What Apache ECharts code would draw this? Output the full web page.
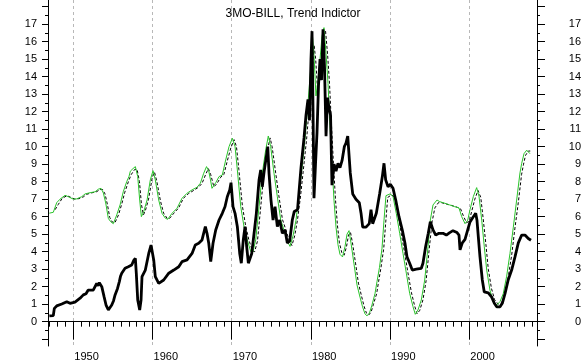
<!DOCTYPE html>
<html><head><meta charset="utf-8">
<script src="https://cdn.jsdelivr.net/npm/echarts@6/dist/echarts.min.js"></script>
<style>html,body{margin:0;padding:0;background:#fff}#c{width:586px;height:364px}</style>
</head><body><div id="c"></div>
<script>
// ---- Data ----
const billYears = [1946.97,1947.47,1947.60,1947.90,1948.54,1949.17,1949.58,1950.21,1950.85,1951.26,1951.60,1951.86,1952.11,1952.53,1952.95,1953.12,1953.28,1953.59,1953.88,1954.13,1954.42,1954.85,1955.08,1955.27,1955.58,1955.81,1955.96,1956.11,1956.53,1956.94,1957.37,1957.63,1957.83,1957.95,1958.13,1958.38,1958.55,1958.67,1959.09,1959.52,1959.81,1959.94,1960.15,1960.35,1960.78,1961.41,1962.05,1962.68,1963.31,1963.72,1964.36,1964.99,1965.40,1965.83,1966.25,1966.67,1966.88,1967.10,1967.35,1967.64,1967.98,1968.40,1968.81,1969.15,1969.44,1969.75,1969.91,1970.16,1970.42,1970.71,1971.01,1971.21,1971.46,1971.68,1971.89,1972.10,1972.27,1972.53,1972.82,1973.11,1973.45,1973.66,1973.86,1974.12,1974.37,1974.55,1974.71,1974.96,1975.22,1975.47,1975.76,1976.06,1976.39,1976.73,1977.02,1977.32,1977.65,1977.90,1978.31,1978.75,1979.13,1979.38,1979.63,1979.82,1980.01,1980.14,1980.27,1980.39,1980.58,1980.77,1980.96,1981.15,1981.34,1981.53,1981.72,1981.91,1982.10,1982.29,1982.48,1982.66,1982.92,1983.17,1983.42,1983.67,1983.93,1984.22,1984.43,1984.65,1984.97,1985.28,1985.69,1986.11,1986.33,1986.54,1986.96,1987.37,1987.59,1987.80,1988.26,1988.69,1989.02,1989.23,1989.44,1989.74,1990.03,1990.37,1990.71,1991.12,1991.54,1991.88,1992.13,1992.47,1992.80,1993.31,1993.94,1994.15,1994.49,1994.82,1995.08,1995.42,1995.76,1996.17,1996.68,1997.10,1997.53,1997.94,1998.45,1998.70,1998.83,1999.12,1999.46,1999.80,2000.09,2000.51,2000.81,2000.97,2001.14,2001.35,2001.64,2001.89,2002.40,2002.83,2003.16,2003.46,2003.88,2004.17,2004.51,2004.92,2005.35,2005.77,2006.19,2006.62,2007.03,2007.45,2007.79];
const billValues = [0.33,0.35,0.76,0.9,1.01,1.14,1.05,1.12,1.34,1.53,1.6,1.8,1.71,1.81,2.19,2.05,2.23,2.0,1.43,0.95,0.67,0.95,1.2,1.53,1.9,2.29,2.6,2.77,3.05,3.14,3.24,3.5,3.62,2.77,1.24,0.67,1.24,2.57,2.95,3.9,4.38,4.48,3.53,2.57,2.19,2.38,2.77,2.95,3.14,3.43,3.53,3.9,4.38,4.48,4.67,5.43,5.05,4.48,3.43,4.48,5.24,5.81,6.19,6.57,7.14,7.53,7.94,6.57,6.19,5.43,3.9,3.34,4.67,5.43,4.29,3.34,3.24,3.9,5.05,6.19,8.1,8.67,7.71,8.67,9.43,10.0,8.48,6.95,5.81,6.57,5.43,5.81,5.05,5.24,4.5,4.6,5.81,6.3,6.4,8.8,10.5,11.8,12.7,11.5,15.0,16.6,12.0,7.05,9.0,10.8,13.5,15.0,13.8,16.7,14.5,10.6,12.8,12.2,11.8,7.8,9.0,8.6,9.05,8.8,9.2,10.0,10.2,10.6,8.5,7.3,7.0,6.8,6.2,5.4,5.4,5.6,6.4,5.6,6.19,7.34,8.29,9.05,8.1,7.71,7.85,7.62,6.95,6.0,5.24,4.48,3.71,3.34,2.95,3.0,3.05,3.34,4.29,5.05,5.71,5.24,4.95,5.05,5.05,4.95,5.09,5.2,5.09,4.95,4.1,4.5,4.7,5.25,5.7,6.0,6.2,5.8,4.85,3.7,2.4,1.7,1.65,1.4,1.05,0.85,0.85,1.05,1.6,2.4,2.95,3.7,4.5,4.95,4.95,4.75,4.65];

const trendYears = [1946.97,1947.47,1947.90,1948.32,1948.95,1949.37,1950.00,1950.43,1951.06,1951.48,1952.11,1952.74,1953.16,1953.50,1953.79,1954.09,1954.42,1954.72,1955.05,1955.48,1955.90,1956.31,1956.74,1957.03,1957.20,1957.54,1957.83,1958.13,1958.38,1958.59,1958.89,1959.31,1959.72,1960.06,1960.35,1960.78,1961.20,1961.62,1961.92,1962.46,1963.09,1963.72,1964.36,1964.99,1965.62,1966.04,1966.46,1966.82,1967.10,1967.32,1967.51,1967.98,1968.40,1968.81,1969.24,1969.66,1970.08,1970.42,1970.71,1971.14,1971.55,1971.97,1972.40,1972.69,1973.03,1973.45,1973.86,1974.29,1974.62,1974.92,1975.34,1975.76,1976.19,1976.60,1977.02,1977.36,1977.74,1978.12,1978.50,1978.88,1979.26,1979.63,1979.95,1980.20,1980.39,1980.64,1980.90,1981.15,1981.40,1981.65,1981.91,1982.16,1982.41,1982.66,1982.92,1983.17,1983.42,1983.67,1983.99,1984.31,1984.56,1984.81,1985.06,1985.44,1985.82,1986.20,1986.52,1986.83,1987.08,1987.40,1987.71,1988.09,1988.35,1988.66,1988.98,1989.23,1989.48,1989.99,1990.37,1990.78,1991.21,1991.63,1992.05,1992.47,1992.89,1993.18,1993.52,1993.94,1994.37,1994.79,1995.08,1995.42,1995.92,1996.26,1996.89,1997.53,1998.16,1998.70,1999.04,1999.46,1999.80,2000.09,2000.51,2000.93,2001.23,2001.57,2001.89,2002.20,2002.61,2003.03,2003.46,2003.88,2004.29,2004.72,2005.14,2005.56,2005.98,2006.40,2006.62,2006.91,2007.25,2007.45,2007.66];
const trendValues = [6.2,6.25,6.8,7.0,7.22,7.14,7.0,7.02,7.14,7.3,7.37,7.42,7.57,7.62,7.35,6.78,5.9,5.71,5.6,6.1,6.67,7.43,8.0,8.3,8.6,8.75,8.86,8.29,6.95,6.0,6.29,6.95,8.1,8.63,8.1,6.95,6.19,5.91,5.85,6.19,6.48,7.05,7.34,7.53,7.68,7.91,8.48,8.86,8.6,8.1,7.62,7.94,8.29,8.38,9.24,10.0,10.48,10.0,8.67,6.57,5.43,4.67,4.0,4.0,4.67,6.57,8.48,9.81,10.61,10.0,8.48,7.14,5.81,5.24,4.6,4.3,4.9,5.8,7.3,8.8,10.5,12.5,14.3,16.3,15.2,12.9,13.8,15.0,16.3,16.8,15.3,13.6,11.2,9.0,6.9,5.4,4.4,3.85,3.7,4.3,5.0,5.2,4.5,3.3,2.1,1.4,0.85,0.45,0.33,0.5,0.95,1.6,2.3,3.1,4.2,5.8,7.2,7.3,7.15,6.19,5.05,3.9,2.77,1.62,0.86,0.42,0.67,1.24,2.38,4.29,5.81,6.67,6.95,6.86,6.77,6.67,6.57,6.5,6.0,5.6,5.8,6.4,7.15,7.66,7.15,5.8,4.3,2.95,1.8,1.15,0.95,1.15,1.6,2.6,3.9,5.4,6.95,8.5,9.05,9.6,9.8,9.7,9.6];

const signalYears = [1947.7,1948.1,1948.6,1949.2,1949.6,1950.2,1950.7,1951.3,1951.7,1952.3,1952.9,1953.4,1953.7,1954.0,1954.3,1954.6,1954.9,1955.25,1955.7,1956.1,1956.5,1956.95,1957.3,1957.75,1958.05,1958.35,1958.6,1958.85,1959.1,1959.5,1959.95,1960.25,1960.55,1961.0,1961.4,1961.85,1962.15,1962.7,1963.3,1963.9,1964.55,1965.2,1965.8,1966.25,1966.7,1967.05,1967.35,1967.75,1968.15,1968.6,1969.0,1969.45,1969.9,1970.3,1970.6,1970.9,1971.35,1971.75,1972.15,1972.6,1972.9,1973.25,1973.65,1974.05,1974.5,1974.85,1975.1,1975.55,1975.95,1976.4,1976.8,1977.25,1977.6,1977.95,1978.3,1978.7,1979.05,1979.45,1979.8,1980.15,1980.4,1980.6,1980.85,1981.1,1981.35,1981.6,1981.85,1982.1,1982.35,1982.6,1982.85,1983.1,1983.35,1983.6,1983.9,1984.2,1984.5,1984.75,1985.0,1985.25,1985.65,1986.0,1986.4,1986.7,1987.0,1987.3,1987.6,1987.9,1988.3,1988.55,1988.85,1989.2,1989.45,1989.7,1990.2,1990.6,1991.0,1991.4,1991.85,1992.25,1992.7,1993.1,1993.4,1993.75,1994.15,1994.55,1994.95,1995.3,1995.65,1996.1,1996.5,1997.1,1997.7,1998.35,1998.9,1999.25,1999.65,2000.0,2000.3,2000.7,2001.1,2001.45,2001.75,2002.1,2002.4,2002.8,2003.2,2003.65,2004.1,2004.5,2004.9,2005.35,2005.75,2006.2,2006.6,2006.85,2007.1,2007.45,2007.7];
const signalValues = [6.4,6.7,7.05,7.2,7.12,7.0,7.03,7.14,7.28,7.36,7.42,7.55,7.55,7.3,6.7,5.95,5.7,5.65,6.1,6.7,7.4,8.0,8.4,8.7,8.7,8.0,6.7,6.1,6.35,7.0,8.2,8.55,8.0,6.9,6.2,5.9,5.9,6.2,6.5,7.05,7.32,7.5,7.68,7.9,8.4,8.75,8.4,7.7,7.9,8.25,8.4,9.2,9.95,10.4,10.0,8.7,6.6,5.5,4.7,4.05,4.0,4.6,6.5,8.4,9.8,10.5,10.0,8.5,7.2,5.85,5.3,4.65,4.35,4.9,5.8,7.2,8.7,10.4,12.3,14.2,15.8,15.0,13.2,13.8,15.0,16.2,16.6,15.3,13.6,11.2,9.0,7.0,5.5,4.5,3.95,3.8,4.3,4.95,5.1,4.5,3.3,2.2,1.45,0.9,0.5,0.38,0.55,1.0,1.6,2.3,3.1,4.2,5.7,7.1,7.25,7.1,6.2,5.05,3.9,2.8,1.65,0.9,0.45,0.65,1.25,2.35,4.2,5.7,6.5,6.8,6.8,6.72,6.65,6.56,6.45,6.05,5.65,5.75,6.3,7.0,7.5,7.1,5.9,4.4,3.0,1.9,1.25,1.0,1.1,1.55,2.5,3.8,5.3,6.85,8.4,9.0,9.5,9.75,9.75];

// ---- Axis ticks / labels ----
const yMajorTicks = [-1,0,1,2,3,4,5,6,7,8,9,10,11,12,13,14,15,16,17,18];
const yMinorTicks = [-0.5,0.5,1.5,2.5,3.5,4.5,5.5,6.5,7.5,8.5,9.5,10.5,11.5,12.5,13.5,14.5,15.5,16.5,17.5];
const yLabels = [0,1,2,3,4,5,6,7,8,9,10,11,12,13,14,15,16,17];
const xDecades = [1950,1960,1970,1980,1990,2000];
const xYears = [1947,1948,1949,1951,1952,1953,1954,1955,1956,1957,1958,1959,1961,1962,1963,1964,1965,1966,1967,1968,1969,1971,1972,1973,1974,1975,1976,1977,1978,1979,1981,1982,1983,1984,1985,1986,1987,1988,1989,1991,1992,1993,1994,1995,1996,1997,1998,1999,2001,2002,2003,2004,2005,2006,2007,2008];

const zip = (a, b) => a.map((v, i) => [v, b[i]]);
const FONT = 'Liberation Sans';
const X_MIN = 1946.8, X_MAX = 2008.55, Y_MIN = -1.39, Y_MAX = 18.38;

const baseY = (pos) => ({type:'value', position:pos, min:Y_MIN, max:Y_MAX, splitLine:{show:false}});

const chart = echarts.init(document.getElementById('c'), null, {renderer:'canvas'});
chart.setOption({
  animation:false,
  backgroundColor:'#fff',
  title:{text:'3MO-BILL, Trend Indictor', left:'center', top:3,
    textStyle:{fontFamily:FONT, fontSize:12, fontWeight:'normal', color:'#000'}},
  grid:{left:48, right:49, top:0, bottom:18, containLabel:false},
  xAxis:[
    {type:'value', position:'bottom', min:X_MIN, max:X_MAX,
     axisLine:{show:true, lineStyle:{color:'#000', width:1}},
     axisTick:{show:true, customValues:xDecades, length:18, lineStyle:{color:'#000'}},
     axisLabel:{show:true, customValues:xDecades, align:'left', padding:[0,0,0,1], margin:5,
       fontFamily:FONT, fontSize:11, color:'#000', formatter:v=>String(v)},
     splitLine:{show:true, lineStyle:{color:'#b8b8b8', type:[3,3], width:1}}},
    {type:'value', position:'bottom', min:X_MIN, max:X_MAX,
     axisLine:{show:false},
     axisTick:{show:true, customValues:xYears, length:5, lineStyle:{color:'#000'}},
     axisLabel:{show:false}, splitLine:{show:false}}
  ],
  yAxis:[
    Object.assign(baseY('left'), {
      axisLine:{show:true, lineStyle:{color:'#000'}},
      axisTick:{show:true, customValues:yMajorTicks, length:6, lineStyle:{color:'#000'}},
      axisLabel:{show:true, customValues:yLabels, margin:11, fontFamily:FONT, fontSize:11, color:'#000'}}),
    Object.assign(baseY('left'), {
      axisLine:{show:false},
      axisTick:{show:true, customValues:yMinorTicks, length:3, lineStyle:{color:'#000'}},
      axisLabel:{show:false}}),
    Object.assign(baseY('right'), {
      axisLine:{show:true, lineStyle:{color:'#000'}},
      axisTick:{show:true, customValues:yMajorTicks, length:8, lineStyle:{color:'#000'}},
      axisLabel:{show:true, customValues:yLabels, margin:44, align:'right', fontFamily:FONT, fontSize:11, color:'#000'}}),
    Object.assign(baseY('right'), {
      axisLine:{show:false},
      axisTick:{show:true, customValues:yMinorTicks, length:3, lineStyle:{color:'#000'}},
      axisLabel:{show:false}})
  ],
  series:[
    {type:'line', name:'Signal', xAxisIndex:0, yAxisIndex:0, data:zip(signalYears, signalValues),
     showSymbol:false, symbol:'none', lineStyle:{color:'#000', width:1, type:[3,2]}, z:2},
    {type:'line', name:'Trend', xAxisIndex:0, yAxisIndex:0, data:zip(trendYears, trendValues),
     showSymbol:false, symbol:'none', lineStyle:{color:'#2ac42a', width:1}, z:3},
    {type:'line', name:'3MO-BILL', xAxisIndex:0, yAxisIndex:0, data:zip(billYears, billValues),
     showSymbol:false, symbol:'none', lineStyle:{color:'#000', width:2.8}, z:4}
  ]
});
</script></body></html>
